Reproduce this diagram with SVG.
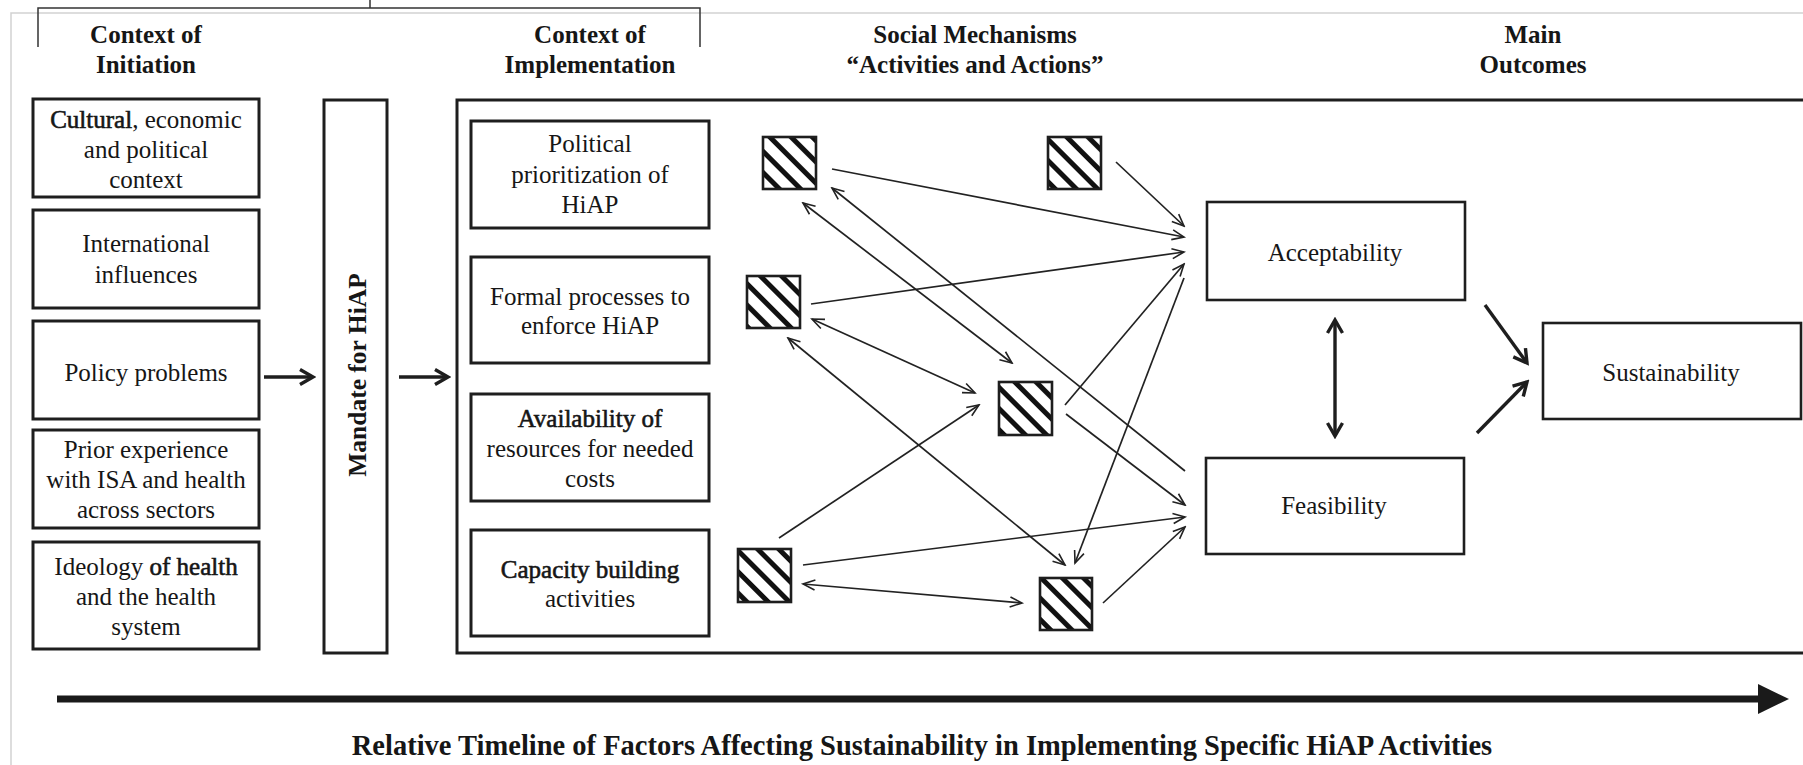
<svg xmlns="http://www.w3.org/2000/svg" width="1803" height="765" viewBox="0 0 1803 765">
<style>
  .t { font-family: "Liberation Serif", "Times New Roman", serif; font-size: 25px; fill: #161616; text-anchor: middle; }
  .h { font-weight: bold; }
  .sb { stroke: #161616; stroke-width: 0.6px; }
  .box { fill: #fff; stroke: #1e1e1e; stroke-width: 3; }
  .obox { fill: #fff; stroke: #1e1e1e; stroke-width: 2.6; }
  .sq { fill: url(#hatch); stroke: #1e1e1e; stroke-width: 2.6; }
  .c { fill: none; stroke: #222; stroke-width: 1.7; }
  .ck { fill: none; stroke: #1e1e1e; stroke-width: 3.4; }
  .page { fill: none; stroke: #d2d2d2; stroke-width: 1.5; }
  .br { fill: none; stroke: #333; stroke-width: 1.5; }
</style>
<defs>
  <pattern id="hatch" patternUnits="userSpaceOnUse" width="15" height="15" patternTransform="rotate(45)">
    <rect x="0" y="0" width="15" height="15" fill="#fff"/>
    <rect x="0" y="0" width="15" height="5" fill="#111"/>
  </pattern>
  <marker id="a" viewBox="-14 -7 16 14" refX="0" refY="0" markerWidth="16" markerHeight="14" markerUnits="userSpaceOnUse" orient="auto-start-reverse">
    <path d="M-12,-5 L0,0 L-12,5" fill="none" stroke="#222" stroke-width="1.6" stroke-linejoin="miter"/>
  </marker>
  <marker id="ak" viewBox="-16 -10 19 20" refX="0" refY="0" markerWidth="19" markerHeight="20" markerUnits="userSpaceOnUse" orient="auto-start-reverse">
    <path d="M-13,-7.5 L0,0 L-13,7.5" fill="none" stroke="#1e1e1e" stroke-width="3.4" stroke-linejoin="miter"/>
  </marker>
</defs>
<rect x="0" y="0" width="1803" height="765" fill="#fff"/>

<!-- page edges and top bracket -->
<g id="page-frame">
  <path class="page" d="M11,765 L11,13 L1803,13"/>
  <path class="br" d="M38,47 L38,8 L700,8 L700,47 M370,0 L370,8"/>
</g>

<!-- headers -->
<g id="headers">
  <text class="t h" x="146" y="43">Context of</text>
  <text class="t h" x="146" y="73">Initiation</text>
  <text class="t h" x="590" y="43">Context of</text>
  <text class="t h" x="590" y="73">Implementation</text>
  <text class="t h" x="975" y="43">Social Mechanisms</text>
  <text class="t h" x="975" y="73">“Activities and Actions”</text>
  <text class="t h" x="1533" y="43">Main</text>
  <text class="t h" x="1533" y="73">Outcomes</text>
</g>

<!-- context of initiation -->
<g id="n-cultural">
  <rect class="box" x="33" y="99" width="226" height="98"/>
  <text class="t" x="146" y="128"><tspan class="sb">Cultural</tspan>, economic</text>
  <text class="t" x="146" y="158">and political</text>
  <text class="t" x="146" y="188">context</text>
</g>
<g id="n-international">
  <rect class="box" x="33" y="210" width="226" height="98"/>
  <text class="t" x="146" y="252">International</text>
  <text class="t" x="146" y="283">influences</text>
</g>
<g id="n-policy">
  <rect class="box" x="33" y="321" width="226" height="98"/>
  <text class="t" x="146" y="381">Policy problems</text>
</g>
<g id="n-prior">
  <rect class="box" x="33" y="430" width="226" height="98"/>
  <text class="t" x="146" y="458">Prior experience</text>
  <text class="t" x="146" y="488">with ISA and health</text>
  <text class="t" x="146" y="518">across sectors</text>
</g>
<g id="n-ideology">
  <rect class="box" x="33" y="542" width="226" height="107"/>
  <text class="t" x="146" y="575">Ideology <tspan class="sb">of health</tspan></text>
  <text class="t" x="146" y="605">and the health</text>
  <text class="t" x="146" y="635">system</text>
</g>

<!-- mandate -->
<g id="n-mandate">
  <rect class="box" x="324" y="100" width="63" height="553"/>
  <text class="t h" transform="translate(366,375) rotate(-90)" x="0" y="0" style="font-size:25.5px">Mandate for HiAP</text>
</g>

<!-- implementation frame -->
<g id="n-implementation-frame">
  <path class="box" d="M1810,100 L457,100 L457,653 L1810,653" fill="none"/>
</g>
<g id="n-political">
  <rect class="box" x="471" y="121" width="238" height="107"/>
  <text class="t" x="590" y="152">Political</text>
  <text class="t" x="590" y="183">prioritization of</text>
  <text class="t" x="590" y="213">HiAP</text>
</g>
<g id="n-formal">
  <rect class="box" x="471" y="257" width="238" height="106"/>
  <text class="t" x="590" y="305">Formal processes to</text>
  <text class="t" x="590" y="334">enforce HiAP</text>
</g>
<g id="n-availability">
  <rect class="box" x="471" y="394" width="238" height="107"/>
  <text class="t" x="590" y="427"><tspan class="sb">Availability of</tspan></text>
  <text class="t" x="590" y="457">resources for needed</text>
  <text class="t" x="590" y="487">costs</text>
</g>
<g id="n-capacity">
  <rect class="box" x="471" y="530" width="238" height="106"/>
  <text class="t" x="590" y="578"><tspan class="sb">Capacity building</tspan></text>
  <text class="t" x="590" y="607">activities</text>
</g>

<!-- social mechanism squares -->
<g id="n-sq1"><rect class="sq" x="763" y="137" width="53" height="52"/></g>
<g id="n-sq2"><rect class="sq" x="1048" y="137" width="53" height="52"/></g>
<g id="n-sq3"><rect class="sq" x="747" y="276" width="53" height="52"/></g>
<g id="n-sq4"><rect class="sq" x="999" y="382" width="53" height="53"/></g>
<g id="n-sq5"><rect class="sq" x="738" y="549" width="53" height="53"/></g>
<g id="n-sq6"><rect class="sq" x="1040" y="578" width="52" height="52"/></g>

<!-- outcomes -->
<g id="n-acceptability">
  <rect class="obox" x="1207" y="202" width="258" height="98"/>
  <text class="t" x="1335" y="261">Acceptability</text>
</g>
<g id="n-feasibility">
  <rect class="obox" x="1206" y="458" width="258" height="96"/>
  <text class="t" x="1334" y="514">Feasibility</text>
</g>
<g id="n-sustainability">
  <rect class="obox" x="1543" y="323" width="258" height="96"/>
  <text class="t" x="1671" y="381">Sustainability</text>
</g>

<!-- connectors -->
<g id="connectors">
  <path class="ck" d="M264,377 L313,377" marker-end="url(#ak)"/>
  <path class="ck" d="M399,377 L448,377" marker-end="url(#ak)"/>

  <path class="c" d="M832,169 L1184,237" marker-end="url(#a)"/>
  <path class="c" d="M1116,162 L1184,226" marker-end="url(#a)"/>
  <path class="c" d="M811,304 L1184,252" marker-end="url(#a)"/>
  <path class="c" d="M1065,405 L1184,264" marker-end="url(#a)"/>
  <path class="c" d="M1184,278 L1075,563" marker-end="url(#a)"/>
  <path class="c" d="M1185,471 L832,188" marker-end="url(#a)"/>
  <path class="c" d="M803,203 L1012,363" marker-start="url(#a)" marker-end="url(#a)"/>
  <path class="c" d="M812,319 L975,393" marker-start="url(#a)" marker-end="url(#a)"/>
  <path class="c" d="M788,338 L1065,565" marker-start="url(#a)" marker-end="url(#a)"/>
  <path class="c" d="M1066,414 L1185,505" marker-end="url(#a)"/>
  <path class="c" d="M779,538 L979,405" marker-end="url(#a)"/>
  <path class="c" d="M803,565 L1185,517" marker-end="url(#a)"/>
  <path class="c" d="M803,584 L1022,603" marker-start="url(#a)" marker-end="url(#a)"/>
  <path class="c" d="M1103,603 L1185,527" marker-end="url(#a)"/>

  <path class="ck" d="M1335,320 L1335,436" marker-start="url(#ak)" marker-end="url(#ak)"/>
  <path class="ck" d="M1485,305 L1527,363" marker-end="url(#ak)"/>
  <path class="ck" d="M1477,433 L1527,382" marker-end="url(#ak)"/>
</g>

<!-- timeline -->
<g id="timeline">
  <path d="M57,699 L1760,699" fill="none" stroke="#1a1a1a" stroke-width="7"/>
  <polygon points="1758,684 1789,699 1758,714" fill="#1a1a1a"/>
  <text class="t h" x="922" y="755" style="font-size:28.5px">Relative Timeline of Factors Affecting Sustainability in Implementing Specific HiAP Activities</text>
</g>
</svg>
